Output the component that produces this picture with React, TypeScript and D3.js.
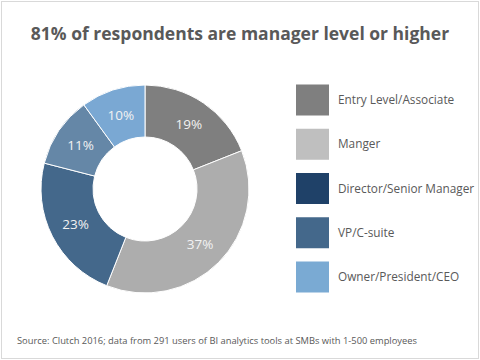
import React from "react";
import * as d3 from "d3";

const title = "81% of respondents are manager level or higher";
const source = "Source: Clutch 2016; data from 291 users of BI analytics tools at SMBs with 1-500 employees";

const legendLabels = ["Entry Level/Associate", "Manger", "Director/Senior Manager", "VP/C-suite", "Owner/President/CEO"];
const legendColors = ["#7f7f7f", "#bfbfbf", "#1f4168", "#44688b", "#7aaad3"];

const sliceValues = [19, 37, 23, 11, 10];
const sliceColors = ["#7f7f7f", "#adadad", "#44688b", "#6587a7", "#7aa8d3"];

const W = 480;
const H = 360;
const FONT = "'Open Sans', 'Noto Sans', sans-serif";

export default function App() {
  const cx = 145;
  const cy = 189;
  const outerR = 104;
  const innerR = 52;
  const pie = d3.pie<number>().sort(null).value((d) => d);
  const arcs = pie(sliceValues);
  const arc = d3.arc<d3.PieArcDatum<number>>().innerRadius(innerR).outerRadius(outerR);
  const legendY = d3.scalePoint<number>().domain(d3.range(legendLabels.length)).range([100, 277]);

  return (
    <svg width={W} height={H} style={{ position: "absolute", left: 0, top: 0 }} fontFamily={FONT}>
      <rect x={1.5} y={1.5} width={W - 3} height={H - 3} fill="#fff" stroke="#d9d9d9" strokeWidth={1} />
      <text x={240} y={40} textAnchor="middle" fontSize={17.5} fontWeight="bold" fill="#595959">
        {title}
      </text>
      <g transform={`translate(${cx},${cy})`}>
        {arcs.map((a, i) => (
          <path key={i} d={arc(a) || ""} fill={sliceColors[i]} stroke="#fff" strokeWidth={1} />
        ))}
        {arcs.map((a, i) => {
          const [x, y] = arc.centroid(a);
          return (
            <text key={"t" + i} x={x} y={y} dy="0.35em" textAnchor="middle" fontSize={13.5} fill="#f2f2f2">
              {sliceValues[i]}%
            </text>
          );
        })}
      </g>
      {legendLabels.map((l, i) => (
        <g key={l} transform={`translate(296,${legendY(i)})`}>
          <rect x={0} y={-15.5} width={33} height={31} fill={legendColors[i]} />
          <text x={42} y={0} dy="0.35em" fontSize={11.8} fill="#595959">
            {l}
          </text>
        </g>
      ))}
      <text x={17} y={341} dy="0.35em" fontSize={9.35} fill="#595959">
        {source}
      </text>
    </svg>
  );
}
